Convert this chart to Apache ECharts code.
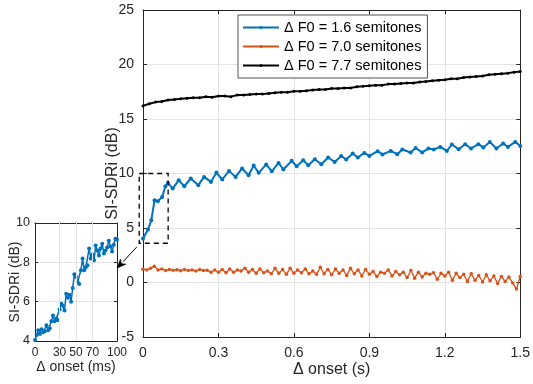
<!DOCTYPE html>
<html><head><meta charset="utf-8">
<script src="https://cdn.jsdelivr.net/npm/echarts@6/dist/echarts.min.js"></script>
<style>html,body{margin:0;padding:0;background:#fff}#c{width:533px;height:384px}</style>
</head><body><div id="c"></div>
<script>
// ---- data ----
const seriesNames = ['\u0394 F0 = 1.6 semitones', '\u0394 F0 = 7.0 semitones', '\u0394 F0 = 7.7 semitones'];

const blueT = [0,0.02,0.033,0.046,0.059,0.076,0.089,0.099,0.118,0.142,0.164,0.19,0.22,0.243,0.27,0.292,0.315,0.342,0.368,0.394,0.42,0.44,0.46,0.49,0.512,0.539,0.558,0.591,0.611,0.637,0.657,0.683,0.709,0.736,0.762,0.788,0.808,0.834,0.854,0.88,0.9,0.933,0.952,0.985,1.011,1.031,1.064,1.084,1.11,1.135,1.156,1.182,1.208,1.228,1.255,1.281,1.304,1.333,1.353,1.379,1.405,1.432,1.451,1.48,1.5];
const blueV = [4.04,4.86,5.7,7.55,7.46,7.85,8.83,9.14,8.62,9.39,8.83,9.54,8.93,9.69,9.23,10.09,9.45,10.24,9.69,10.46,9.84,10.73,10.06,10.83,10.2,10.97,10.37,11.16,10.67,11.22,10.76,11.31,10.85,11.47,11.06,11.61,11.28,11.83,11.47,11.89,11.61,12.05,11.74,12.07,11.77,12.2,11.93,12.35,11.93,12.3,12.2,12.44,12.07,12.66,12.23,12.69,12.29,12.69,12.39,12.9,12.29,12.75,12.44,12.9,12.53];

const orangeStep = 0.015;
const orangeV = [1.22,1.15,1.3,1.5,1.15,1.25,1.1,1.2,1.12,1.18,1.08,1.2,1.1,1.15,1.05,1.2,1.1,1.12,0.95,1.15,
  0.95,1.2,0.9,1.25,0.95,1.15,1.05,1.3,0.95,1.2,0.85,1.25,0.9,1.05,0.8,1.3,0.85,1.2,0.75,1.3,
  0.85,1.15,0.9,1.25,0.8,1.05,0.75,1.4,0.8,1.2,0.7,1.25,0.85,1.15,0.65,1.3,0.8,1.15,0.6,1.2,
  0.75,1.0,0.55,0.95,0.85,1.15,0.6,1.0,0.7,0.95,0.45,1.1,0.4,0.95,0.5,0.85,0.75,0.9,0.3,0.85,
  0.6,0.95,0.2,0.85,0.45,0.75,0.1,0.8,0.2,0.65,0.05,0.7,0.15,0.6,-0.1,0.55,0.1,0.5,-0.05,-0.6,0.55];

const blackStep = 0.025;
const blackV = [16.2,16.4,16.55,16.6,16.75,16.8,16.85,16.9,16.95,16.95,17.05,17.0,17.1,17.1,17.05,17.2,17.2,17.25,17.3,17.3,
  17.35,17.4,17.45,17.45,17.55,17.55,17.6,17.65,17.7,17.7,17.8,17.8,17.85,17.85,17.95,18.0,18.05,18.1,18.1,18.2,
  18.2,18.25,18.3,18.3,18.4,18.45,18.5,18.55,18.6,18.7,18.7,18.8,18.85,18.9,18.95,19.05,19.1,19.15,19.2,19.3,19.35];

const insetStepMs = 2;
const insetV = [4.05,4.3,4.55,4.35,4.6,4.45,4.5,4.8,4.55,4.65,5.0,5.3,5.0,5.15,5.05,5.6,5.9,5.8,5.55,6.4,
  6.2,6.35,6.0,6.7,7.4,7.25,7.0,6.9,7.6,8.2,7.6,7.75,7.85,8.7,8.2,8.4,8.1,8.85,8.6,8.35,
  8.7,8.95,8.45,8.6,8.75,9.1,8.8,8.55,8.9,9.2,9.15];

const insetXTicks = [0,30,50,70,100];
const insetXGrid = [30,50,70];
// zoom box (data coords) and arrow endpoints
const zoomBoxX = [-0.015, 0.1], zoomBoxY = [3.6, 10];
const arrowFrom = [-0.025, 3.25];   // main axes
const arrowTo = [100, 7.7];         // inset axes

// ---- build ----
const FONT = 'Liberation Sans';
const AX = '#262626', GRID = '#e3e3e3';
const blueData = blueT.map((t,i)=>[t, blueV[i]]);
const orangeData = orangeV.map((v,i)=>[+(i*orangeStep).toFixed(4), v]);
const blackData = blackV.map((v,i)=>[+(i*blackStep).toFixed(4), v]);
const insetData = insetV.map((v,i)=>[i*insetStepMs, v]);

function baseAxis(extra){
  return Object.assign({
    type:'value',
    nameMoveOverlap:false,
    axisLine:{show:true,onZero:false,lineStyle:{color:AX,width:1}},
    axisTick:{show:true,inside:true,length:4,lineStyle:{color:AX}},
    axisLabel:{color:AX,fontFamily:FONT,fontSize:14},
    splitLine:{show:false},
    nameTextStyle:{color:AX,fontFamily:FONT,fontSize:16}
  }, extra);
}

const chart = echarts.init(document.getElementById('c'), null, {renderer:'canvas'});
const option = {
  animation:false,
  backgroundColor:'#fff',
  textStyle:{fontFamily:FONT},
  grid:[
    {left:143, top:10, right:9, bottom:47},
    {left:35, top:223, width:82, height:118}
  ],
  legend:{
    data:seriesNames, orient:'vertical', left:238, top:15,
    itemWidth:36, itemHeight:4, itemGap:4, itemTextGap:5,
    padding:[5,6,5,4], backgroundColor:'#fff', borderColor:AX, borderWidth:0.8,
    textStyle:{fontFamily:FONT,fontSize:14.5,color:'#000'}
  },
  xAxis:[
    baseAxis({gridIndex:0,min:0,max:1.5,interval:0.3,position:'bottom',
      axisLabel:{color:AX,fontFamily:FONT,fontSize:14,margin:9},
      splitLine:{show:true,lineStyle:{color:GRID,width:1}},
      name:'\u0394 onset (s)',nameLocation:'middle',nameGap:25}),
    baseAxis({gridIndex:0,min:0,max:1.5,interval:0.3,position:'top',axisLabel:{show:false}}),
    baseAxis({gridIndex:1,min:0,max:100,position:'bottom',
      axisLabel:{color:AX,fontFamily:FONT,fontSize:12,margin:6,customValues:insetXTicks},
      axisTick:{show:true,inside:true,length:3,lineStyle:{color:AX},customValues:insetXTicks},
      name:'\u0394 onset (ms)',nameLocation:'middle',nameGap:19,
      nameTextStyle:{color:AX,fontFamily:FONT,fontSize:14}}),
    baseAxis({gridIndex:1,min:0,max:100,position:'top',axisLabel:{show:false},
      axisTick:{show:true,inside:true,length:3,lineStyle:{color:AX},customValues:insetXTicks}})
  ],
  yAxis:[
    baseAxis({gridIndex:0,min:-5,max:25,interval:5,position:'left',
      axisLabel:{color:AX,fontFamily:FONT,fontSize:14,margin:9},
      splitLine:{show:true,lineStyle:{color:GRID,width:1}},
      name:'SI-SDRi (dB)',nameLocation:'middle',nameGap:22}),
    baseAxis({gridIndex:0,min:-5,max:25,interval:5,position:'right',axisLabel:{show:false}}),
    baseAxis({gridIndex:1,min:4,max:10,interval:2,position:'left',
      axisLabel:{color:AX,fontFamily:FONT,fontSize:12.5,margin:5},
      axisTick:{show:true,inside:true,length:3,lineStyle:{color:AX}},
      splitLine:{show:true,lineStyle:{color:GRID,width:1}},
      name:'SI-SDRi (dB)',nameLocation:'middle',nameGap:13,
      nameTextStyle:{color:AX,fontFamily:FONT,fontSize:14}}),
    baseAxis({gridIndex:1,min:4,max:10,interval:2,position:'right',axisLabel:{show:false},
      axisTick:{show:true,inside:true,length:3,lineStyle:{color:AX}}})
  ],
  series:[
    {name:seriesNames[0],type:'line',xAxisIndex:0,yAxisIndex:0,data:blueData,
      color:'#0072BD',symbol:'circle',symbolSize:4,showSymbol:true,lineStyle:{width:2},z:3},
    {name:seriesNames[1],type:'line',xAxisIndex:0,yAxisIndex:0,data:orangeData,
      color:'#D95319',symbol:'circle',symbolSize:3.5,showSymbol:true,lineStyle:{width:1.3},z:3},
    {name:seriesNames[2],type:'line',xAxisIndex:0,yAxisIndex:0,data:blackData,
      color:'#000000',symbol:'circle',symbolSize:3,showSymbol:true,lineStyle:{width:2},z:3},
    {name:'insetGrid',type:'line',xAxisIndex:2,yAxisIndex:2,data:[],z:1,silent:true,
      markLine:{silent:true,symbol:['none','none'],label:{show:false},animation:false,
        lineStyle:{color:GRID,type:'solid',width:1},
        data:insetXGrid.map(v=>({xAxis:v}))}},
    {name:'inset',type:'line',xAxisIndex:2,yAxisIndex:2,data:insetData,
      color:'#0072BD',symbol:'circle',symbolSize:4,showSymbol:true,lineStyle:{width:1.5},z:3}
  ]
};
chart.setOption(option);

// annotations: dashed zoom box + arrow, positioned via the chart's own scales
const pA = chart.convertToPixel({gridIndex:0}, [zoomBoxX[0], zoomBoxY[1]]);
const pB = chart.convertToPixel({gridIndex:0}, [zoomBoxX[1], zoomBoxY[0]]);
const a0 = chart.convertToPixel({gridIndex:0}, arrowFrom);
const a1 = chart.convertToPixel({gridIndex:1}, arrowTo);
const dx = a1[0]-a0[0], dy = a1[1]-a0[1], L = Math.hypot(dx,dy);
const ux = dx/L, uy = dy/L, px = -uy, py = ux;
const hl = 9, hw = 3.8;
const base = [a1[0]-ux*hl, a1[1]-uy*hl];
chart.setOption({graphic:[
  {type:'rect',silent:true,z:10,shape:{x:pA[0],y:pA[1],width:pB[0]-pA[0],height:pB[1]-pA[1]},
    style:{fill:'none',stroke:'#000',lineWidth:1.3,lineDash:[5,4]}},
  {type:'line',silent:true,z:10,shape:{x1:a0[0],y1:a0[1],x2:base[0],y2:base[1]},
    style:{stroke:'#000',lineWidth:1}},
  {type:'polygon',silent:true,z:10,shape:{points:[a1,[base[0]+px*hw,base[1]+py*hw],[base[0]+ux*2.5,base[1]+uy*2.5],[base[0]-px*hw,base[1]-py*hw]]},
    style:{fill:'#000',stroke:'#000',lineWidth:0.5}}
]});
</script>
</body></html>
